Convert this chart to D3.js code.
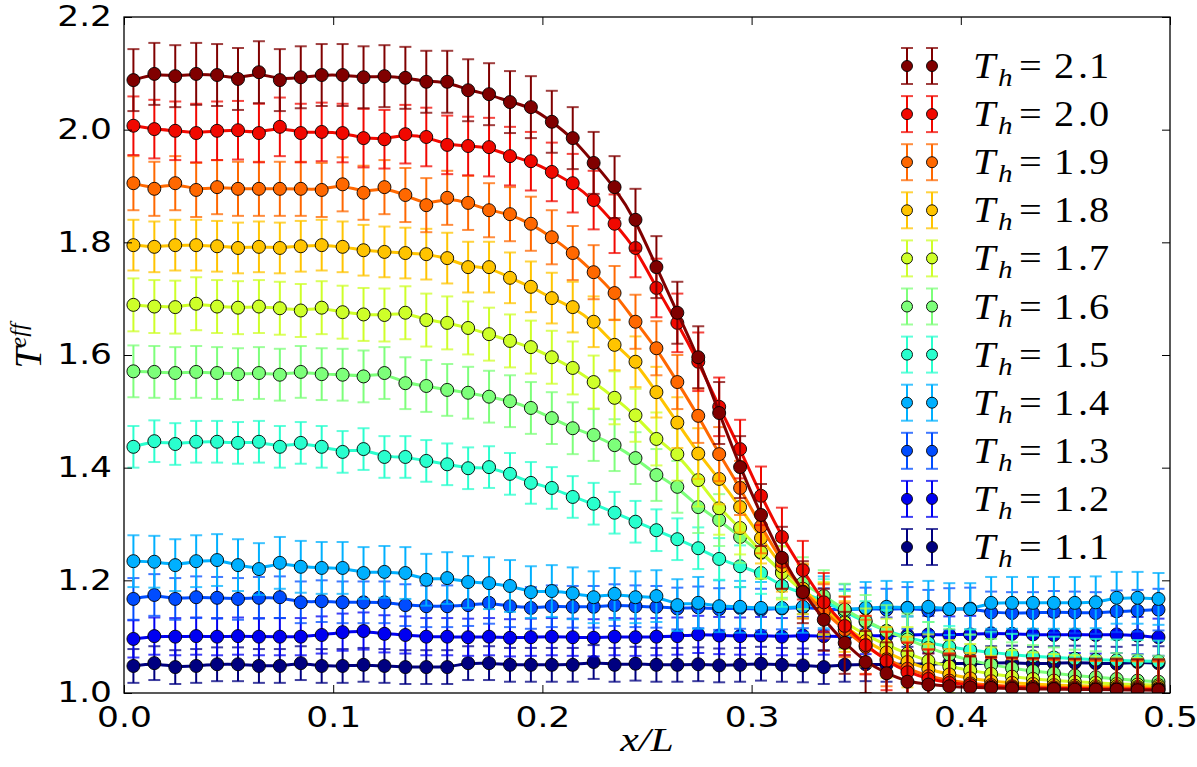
<!DOCTYPE html>
<html>
<head>
<meta charset="utf-8">
<title>Teff profiles</title>
<style>
	body { margin: 0; background: #fff; }
	text { font-family: "DejaVu Sans", sans-serif; }
	.math { font-family: "Liberation Serif", "DejaVu Serif", serif; }
</style>
</head>
<body>
<svg width="1197" height="767"></svg>
<script src="https://cdn.jsdelivr.net/npm/d3@7"></script>
<script>
// sample positions x/L
const xs = [0.0045,0.0145,0.0245,0.0345,0.0445,0.0545,0.0645,0.0745,0.0845,0.0945,
	0.1045,0.1145,0.1245,0.1345,0.1445,0.1545,0.1645,0.1745,0.1845,0.1945,
	0.2045,0.2145,0.2245,0.2345,0.2445,0.2545,0.2645,0.2745,0.2845,0.2945,
	0.3045,0.3145,0.3245,0.3345,0.3445,0.3545,0.3645,0.3745,0.3845,0.3945,
	0.4045,0.4145,0.4245,0.4345,0.4445,0.4545,0.4645,0.4745,0.4845,0.4945];

const Th = [2.1, 2.0, 1.9, 1.8, 1.7, 1.6, 1.5, 1.4, 1.3, 1.2, 1.1];
const colors = ['#800000','#f10800','#ff6800','#ffc400','#ceff29','#7dff7a','#29ffce','#00b0ff','#004cff','#0000f1','#000080'];
// half length of error bars, per series
const errs = [0.055, 0.052, 0.048, 0.045, 0.047, 0.046, 0.037, 0.046, 0.037, 0.033, 0.030];

const t21 = [2.088,2.099,2.095,2.099,2.097,2.090,2.102,2.088,2.093,2.097,2.097,2.093,2.095,
	2.092,2.085,2.085,2.070,2.063,2.049,2.040,2.014,1.985,1.941,1.898,1.840,1.756,
	1.675,1.596,1.497,1.401,1.316,1.240,1.179,1.130,1.089,1.055,1.035,1.020,
	1.015,1.012,1.010,1.009,1.008,1.007,1.007,1.006,1.006,1.006,1.005,1.005];
const t20 = [2.007,2.001,1.998,1.994,1.998,1.999,1.994,2.005,1.994,1.996,1.994,1.985,1.983,
	1.992,1.987,1.973,1.971,1.969,1.953,1.944,1.925,1.905,1.875,1.833,1.790,1.719,
	1.657,1.588,1.508,1.433,1.350,1.277,1.218,1.161,1.119,1.085,1.057,1.037,
	1.025,1.018,1.014,1.011,1.010,1.009,1.008,1.008,1.007,1.007,1.007,1.006];
const t19 = [1.905,1.895,1.905,1.893,1.898,1.895,1.895,1.895,1.895,1.893,1.903,1.888,1.898,
	1.884,1.866,1.879,1.870,1.857,1.850,1.833,1.809,1.781,1.747,1.710,1.659,1.612,
	1.552,1.492,1.424,1.364,1.296,1.233,1.180,1.145,1.112,1.082,1.060,1.043,
	1.030,1.022,1.017,1.014,1.012,1.011,1.010,1.010,1.009,1.009,1.009,1.008];
const t18 = [1.795,1.792,1.795,1.795,1.793,1.790,1.792,1.790,1.793,1.795,1.792,1.786,
	1.783,1.781,1.779,1.772,1.756,1.756,1.737,1.721,1.701,1.685,1.659,1.618,1.588,1.534,
	1.480,1.425,1.380,1.330,1.275,1.225,1.185,1.150,1.118,1.092,1.072,1.055,
	1.042,1.033,1.026,1.021,1.018,1.016,1.014,1.013,1.012,1.012,1.011,1.011];
const t17 = [1.689,1.686,1.685,1.691,1.686,1.684,1.686,1.683,1.679,1.684,1.676,1.672,
	1.671,1.675,1.662,1.657,1.648,1.637,1.625,1.614,1.596,1.577,1.552,1.524,1.493,1.451,
	1.424,1.378,1.328,1.293,1.250,1.213,1.180,1.150,1.125,1.103,1.085,1.070,
	1.057,1.047,1.040,1.034,1.029,1.025,1.022,1.020,1.018,1.016,1.015,1.014];
const t16 = [1.571,1.570,1.568,1.570,1.568,1.566,1.568,1.565,1.570,1.566,1.565,1.562,
	1.568,1.550,1.545,1.538,1.533,1.526,1.518,1.506,1.488,1.470,1.458,1.440,1.417,1.387,
	1.366,1.330,1.307,1.277,1.249,1.215,1.195,1.172,1.148,1.128,1.110,1.095,
	1.080,1.068,1.058,1.050,1.044,1.039,1.035,1.031,1.028,1.025,1.022,1.020];
const t15 = [1.437,1.447,1.442,1.446,1.446,1.444,1.446,1.437,1.444,1.437,1.428,1.433,1.419,
	1.419,1.412,1.406,1.399,1.401,1.389,1.373,1.364,1.348,1.336,1.320,1.304,1.289,
	1.273,1.257,1.238,1.225,1.213,1.190,1.177,1.165,1.144,1.126,1.110,1.099,
	1.089,1.082,1.076,1.072,1.068,1.065,1.063,1.061,1.059,1.058,1.057,1.056];
const t14 = [1.234,1.233,1.227,1.234,1.236,1.227,1.220,1.231,1.224,1.222,1.222,1.213,1.215,
	1.213,1.201,1.204,1.197,1.195,1.190,1.179,1.181,1.177,1.170,1.176,1.170,1.172,
	1.156,1.160,1.154,1.153,1.151,1.151,1.153,1.161,1.147,1.151,1.153,1.151,1.153,
	1.149,1.149,1.160,1.160,1.160,1.160,1.160,1.161,1.169,1.169,1.167];
const t13 = [1.167,1.174,1.167,1.170,1.169,1.167,1.169,1.170,1.161,1.163,1.161,1.161,1.161,
	1.156,1.154,1.154,1.156,1.160,1.154,1.151,1.154,1.153,1.153,1.156,1.154,1.153,
	1.150,1.152,1.149,1.151,1.148,1.150,1.152,1.149,1.147,1.150,1.148,1.151,
	1.146,1.149,1.150,1.143,1.142,1.142,1.144,1.143,1.142,1.145,1.146,1.148];
const t12 = [1.096,1.101,1.100,1.101,1.100,1.101,1.100,1.100,1.100,1.103,1.108,1.110,1.105,
	1.103,1.100,1.100,1.099,1.100,1.098,1.099,1.100,1.099,1.098,1.100,1.099,1.100,
	1.101,1.104,1.102,1.101,1.102,1.100,1.102,1.101,1.100,1.102,1.101,1.103,
	1.104,1.103,1.104,1.106,1.105,1.104,1.103,1.104,1.103,1.104,1.102,1.099];
const t11 = [1.048,1.053,1.046,1.048,1.051,1.051,1.048,1.048,1.053,1.048,1.048,1.050,1.048,
	1.046,1.046,1.046,1.053,1.053,1.050,1.050,1.050,1.050,1.055,1.050,1.052,1.050,
	1.050,1.051,1.049,1.050,1.052,1.050,1.049,1.046,1.050,1.051,1.050,1.052,
	1.051,1.053,1.052,1.053,1.054,1.052,1.053,1.054,1.053,1.052,1.055,1.053];

const vals = [t21, t20, t19, t18, t17, t16, t15, t14, t13, t12, t11];

const xTicks = [0.0, 0.1, 0.2, 0.3, 0.4, 0.5];
const yTicks = [1.0, 1.2, 1.4, 1.6, 1.8, 2.0, 2.2];

const mLeft = 124, mRight = 1170, mTop = 17, mBottom = 693;
const stretch = 1.23; // the glyphs in the picture are wider than they are tall
var svg = d3.select('svg');

var x = d3.scaleLinear().domain([0, 0.5]).range([mLeft, mRight]);
var y = d3.scaleLinear().domain([1.0, 2.2]).range([mBottom, mTop]);

svg.append('defs').append('clipPath').attr('id', 'plot')
	.append('rect').attr('x', mLeft).attr('y', mTop)
	.attr('width', mRight - mLeft).attr('height', mBottom - mTop);

var plot = svg.append('g').attr('clip-path', 'url(#plot)');

var line = d3.line().x((d, i) => x(xs[i])).y(d => y(d)).curve(d3.curveBasis);

// lowest temperature first, so the hot curves end on top
d3.range(Th.length).reverse().forEach(k => {
	const g = plot.append('g');
	const c = colors[k], e = errs[k];
	g.append('path').datum(vals[k])
		.attr('d', line).attr('fill', 'none')
		.attr('stroke', c).attr('stroke-width', 3);
	const pts = vals[k].map((v, i) => ({x: xs[i], v: v}));
	g.selectAll('line.bar').data(pts).enter().append('line')
		.attr('x1', d => x(d.x)).attr('x2', d => x(d.x))
		.attr('y1', d => y(d.v - e)).attr('y2', d => y(d.v + e))
		.attr('stroke', c).attr('stroke-width', 2);
	[-1, 1].forEach(s => {
		g.selectAll('line.cap' + s).data(pts).enter().append('line')
			.attr('x1', d => x(d.x) - 6).attr('x2', d => x(d.x) + 6)
			.attr('y1', d => y(d.v + s * e)).attr('y2', d => y(d.v + s * e))
			.attr('stroke', c).attr('stroke-width', 2).attr('stroke-opacity', 0.75);
	});
	g.selectAll('circle').data(pts).enter().append('circle')
		.attr('cx', d => x(d.x)).attr('cy', d => y(d.v)).attr('r', 6.5)
		.attr('fill', c).attr('stroke', '#000').attr('stroke-width', 0.9);
});

// axes, ticks pointing inward
svg.append('g').attr('transform', `translate(0,${mBottom})`)
	.call(d3.axisBottom(x).tickValues(xTicks).tickFormat(d3.format('.1f'))
		.tickSize(-8).tickSizeOuter(0).tickPadding(14));
svg.append('g').attr('transform', `translate(${mLeft},0)`)
	.call(d3.axisLeft(y).tickValues(yTicks).tickFormat(d3.format('.1f'))
		.tickSize(-8).tickSizeOuter(0).tickPadding(12));
svg.append('g').attr('transform', `translate(0,${mTop})`)
	.call(d3.axisTop(x).tickValues(xTicks).tickFormat('').tickSize(-8).tickSizeOuter(0));
svg.append('g').attr('transform', `translate(${mRight},0)`)
	.call(d3.axisRight(y).tickValues(yTicks).tickFormat('').tickSize(-8).tickSizeOuter(0));

svg.selectAll('.tick text').attr('font-size', 28).attr('fill', '#000')
	.style('font-family', '"DejaVu Sans", sans-serif')
	.each(function () {
		const t = d3.select(this);
		const tx = +t.attr('x') || 0, ty = +t.attr('y') || 0;
		t.attr('x', 0).attr('y', 0)
			.attr('transform', `translate(${tx},${ty}) scale(${stretch},1)`);
	});
svg.selectAll('.tick line').attr('stroke', '#000').attr('stroke-width', 1);
svg.selectAll('.domain').remove();

svg.append('rect').attr('x', mLeft).attr('y', mTop)
	.attr('width', mRight - mLeft).attr('height', mBottom - mTop)
	.attr('fill', 'none').attr('stroke', '#000').attr('stroke-width', 1.3);

// axis labels
svg.append('text').attr('class', 'math')
	.attr('transform', `translate(647,751) scale(${stretch},1)`)
	.attr('text-anchor', 'middle').attr('font-size', 34).attr('font-style', 'italic')
	.text('x/L');
var yl = svg.append('text').attr('class', 'math')
	.attr('transform', 'translate(41,346) rotate(-90)')
	.attr('text-anchor', 'middle').attr('font-size', 38).attr('font-style', 'italic');
yl.append('tspan').text('T');
yl.append('tspan').attr('font-size', 24).attr('dy', -15).text('eff');

// legend
var legend = svg.append('g');
Th.forEach((t, k) => {
	const cy = 66 + k * 48.1;
	const row = legend.append('g');
	[907, 932].forEach(cx => {
		row.append('line').attr('x1', cx).attr('x2', cx).attr('y1', cy - 18).attr('y2', cy + 18)
			.attr('stroke', colors[k]).attr('stroke-width', 2);
		[-18, 18].forEach(dy => row.append('line')
			.attr('x1', cx - 6).attr('x2', cx + 6).attr('y1', cy + dy).attr('y2', cy + dy)
			.attr('stroke', colors[k]).attr('stroke-width', 2).attr('stroke-opacity', 0.75));
		row.append('circle').attr('cx', cx).attr('cy', cy).attr('r', 5.5)
			.attr('fill', colors[k]).attr('stroke', '#000').attr('stroke-width', 0.9);
	});
	const base = cy + 12;
	const s = t.toFixed(1);
	const piece = (px, py, size, italic, str) => row.append('text').attr('class', 'math')
		.attr('transform', `translate(${px},${py}) scale(1.12,1)`)
		.attr('font-size', size).attr('font-style', italic ? 'italic' : 'normal').text(str);
	piece(973, base, 36, true, 'T');
	piece(998, base + 8, 26, true, 'h');
	piece(1019, base, 36, false, '=');
	piece(1054, base, 36, false, s[0]);
	piece(1078, base, 36, false, '.');
	piece(1089, base, 36, false, s[2]);
});
</script>
</body>
</html>
